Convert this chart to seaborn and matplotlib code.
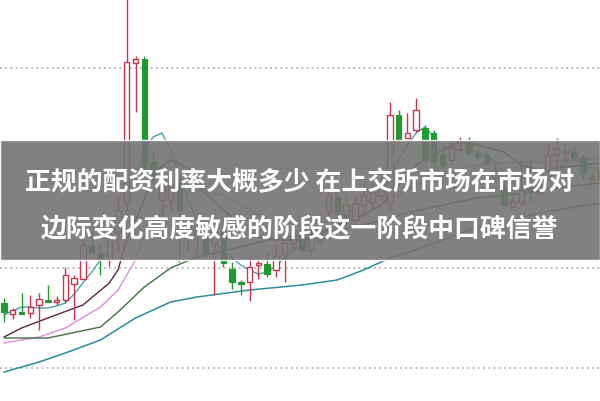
import numpy as np
import pandas as pd
import matplotlib
matplotlib.use('Agg')
import matplotlib.pyplot as plt
import seaborn as sns

# candle data (price units, one candle per day)
opens  = [8.65, 8.54, 8.56, 8.55, 8.63, 8.68, 8.66, 8.68, 8.84, 8.89,
          9.22, 9.15, 9.08, 9.36, 9.65, 11.05, 11.09, 10.06, 9.68, 9.68,
          9.85, 9.32, 9.33, 9.35, 9.25, 9.36, 8.99, 8.86, 8.86, 9.03,
          9.04, 8.98, 9.14, 9.25, 9.33, 9.18, 9.28, 9.56, 9.71, 9.53,
          9.48, 9.63, 9.65, 9.73, 9.65, 10.53, 10.30, 10.38, 10.40, 10.35,
          10.13, 10.08, 10.25, 10.26, 10.15, 10.13, 9.90, 9.80, 9.61, 9.65,
          9.81, 9.75, 9.98, 10.13, 10.15, 10.16, 10.10, 9.89, 10.01]
highs  = [8.70, 8.60, 8.75, 8.73, 8.75, 8.83, 8.72, 9.01, 8.93, 9.30,
          9.38, 9.23, 9.40, 9.73, 11.88, 11.12, 11.12, 10.18, 9.98, 9.90,
          9.91, 9.41, 9.48, 9.41, 9.41, 9.40, 9.06, 8.88, 9.13, 9.08,
          9.18, 9.23, 9.36, 9.40, 9.40, 9.41, 9.50, 9.80, 9.78, 9.73,
          9.73, 9.85, 9.85, 9.91, 10.66, 10.58, 10.55, 10.70, 10.43, 10.38,
          10.20, 10.28, 10.31, 10.31, 10.18, 10.16, 10.08, 9.86, 9.75, 10.10,
          10.10, 9.81, 10.23, 10.30, 10.25, 10.23, 10.13, 9.96, 10.05]
lows   = [8.46, 8.49, 8.54, 8.50, 8.38, 8.66, 8.63, 8.65, 8.48, 8.89,
          9.15, 8.93, 9.02, 9.18, 9.58, 10.56, 9.93, 9.83, 9.53, 9.58,
          9.06, 9.15, 9.13, 9.10, 8.73, 9.01, 8.79, 8.73, 8.67, 8.89,
          8.91, 8.91, 8.86, 9.18, 9.16, 9.13, 9.23, 9.48, 9.48, 9.43,
          9.35, 9.55, 9.60, 9.68, 9.58, 10.26, 10.30, 10.36, 10.03, 9.93,
          10.00, 10.03, 10.16, 10.11, 10.08, 10.03, 9.86, 9.61, 9.61, 9.63,
          9.66, 9.73, 9.96, 10.01, 10.08, 10.08, 9.88, 9.86, 9.83]
closes = [8.56, 8.58, 8.54, 8.61, 8.69, 8.66, 8.68, 8.93, 8.90, 9.23,
          9.16, 9.10, 9.33, 9.58, 11.06, 11.09, 10.00, 9.93, 9.88, 9.83,
          9.58, 9.30, 9.38, 9.15, 9.36, 9.05, 8.86, 8.84, 9.01, 9.05,
          8.94, 9.12, 9.25, 9.33, 9.18, 9.31, 9.41, 9.73, 9.56, 9.63,
          9.65, 9.73, 9.76, 9.85, 10.53, 10.28, 10.35, 10.58, 10.08, 10.06,
          10.03, 10.21, 10.27, 10.15, 10.10, 10.05, 9.98, 9.63, 9.67, 9.78,
          9.76, 9.77, 10.13, 10.20, 10.17, 10.10, 9.95, 9.91, 9.88]

# moving average lines (read at candle positions)
ma5 = [8.53, 8.57, 8.61, 8.61, 8.60, 8.60, 8.62, 8.65, 8.74, 8.85,
       8.96, 9.08, 9.18, 9.28, 9.58, 9.93, 10.18, 10.31, 10.35, 10.18,
       9.93, 9.68, 9.48, 9.33, 9.25, 9.18, 9.10, 9.03, 8.98, 8.94,
       8.96, 9.02, 9.10, 9.18, 9.23, 9.27, 9.32, 9.40, 9.46, 9.53,
       9.58, 9.63, 9.68, 9.75, 9.93, 10.08, 10.23, 10.35, 10.41, 10.31,
       10.23, 10.18, 10.18, 10.18, 10.16, 10.13, 10.06, 9.96, 9.88, 9.81,
       9.78, 9.80, 9.88, 9.98, 10.05, 10.08, 10.05, 10.00, 9.96]
ma10_idx = [0, 2, 5, 9, 12, 13, 14, 16, 17, 19, 21, 22, 25, 27, 29, 31, 34, 36,
            38, 41, 43, 45, 47, 50, 52, 54, 57, 59, 61, 63, 66, 68]
ma10 = [8.31, 8.40, 8.50, 8.63, 8.85, 8.98, 9.28, 9.68, 9.95, 10.08, 10.00, 9.83,
        9.58, 9.43, 9.31, 9.28, 9.28, 9.33, 9.43, 9.53, 9.63, 9.83, 10.03, 10.18,
        10.26, 10.23, 10.16, 10.03, 9.98, 10.00, 10.03, 10.05]
ma20_idx = [0, 4, 7, 11, 13, 15, 16, 18, 20, 22, 25, 27, 29, 31, 34, 37, 41, 44,
            47, 51, 54, 58, 61, 65, 68]
ma20 = [8.25, 8.31, 8.40, 8.61, 8.78, 9.08, 9.33, 9.58, 9.73, 9.78, 9.73, 9.63,
        9.53, 9.46, 9.43, 9.46, 9.55, 9.68, 9.83, 9.95, 10.03, 10.06, 10.06, 10.08,
        10.10]
ma30_idx = [0, 5, 11, 13, 16, 19, 22, 28, 30, 34, 37, 41, 45, 50, 54, 59, 63, 68]
ma30 = [8.30, 8.30, 8.41, 8.56, 8.81, 9.00, 9.11, 9.23, 9.28, 9.33, 9.36, 9.43,
        9.53, 9.63, 9.70, 9.75, 9.80, 9.85]
ma60_idx = [0, 4, 7, 11, 15, 19, 22, 28, 34, 38, 41, 44, 47, 50, 53, 57, 60, 63, 68]
ma60 = [7.96, 8.06, 8.15, 8.28, 8.50, 8.66, 8.71, 8.78, 8.83, 8.88, 8.98, 9.10,
        9.18, 9.28, 9.38, 9.46, 9.53, 9.58, 9.65]

grid_levels = [8, 9, 10, 11]

title_lines = ['正规的配资利率大概多少 在上交所市场在市场对',
               '边际变化高度敏感的阶段这一阶段中口碑信誉']

sns.set_theme(style='white')
plt.rcParams['font.family'] = ['Noto Sans CJK SC', 'DejaVu Sans']

df = pd.DataFrame({'open': opens, 'high': highs, 'low': lows, 'close': closes})
df['day'] = np.arange(len(df))
df['ma5'] = ma5

red = '#c9344e'
green = '#1f9a2e'

fig = plt.figure(figsize=(6, 4.01), dpi=100)
ax = fig.add_axes([0, 0, 1, 1])

# dotted horizontal grid
for lv in grid_levels:
    ax.axhline(lv, color='#a8a8a8', linestyle=(0, (1.2, 2.2)), linewidth=1.1, zorder=0)

# moving averages
sns.lineplot(data=df, x='day', y='ma5', ax=ax, color='#4aa3a6', linewidth=1.0, zorder=2)
sns.lineplot(x=ma10_idx, y=ma10, ax=ax, color='#5b2545', linewidth=1.0, zorder=2)
sns.lineplot(x=ma20_idx, y=ma20, ax=ax, color='#e28ae0', linewidth=1.0, zorder=2)
sns.lineplot(x=ma30_idx, y=ma30, ax=ax, color='#3f6f3f', linewidth=1.0, zorder=2)
sns.lineplot(x=ma60_idx, y=ma60, ax=ax, color='#2b8b9b', linewidth=1.1, zorder=2)

# candles
w = 0.62
up = df[df['close'] >= df['open']]
dn = df[df['close'] < df['open']]
ax.vlines(up['day'], up['low'], up['high'], color=red, linewidth=1.0, zorder=3)
ax.vlines(dn['day'], dn['low'], dn['high'], color=green, linewidth=1.0, zorder=3)
ax.bar(up['day'], (up['close'] - up['open']).clip(lower=0.02), bottom=up['open'],
       width=w, facecolor='white', edgecolor=red, linewidth=1.0, zorder=4)
ax.bar(dn['day'], (dn['open'] - dn['close']).clip(lower=0.02), bottom=dn['close'],
       width=w, facecolor=green, edgecolor=green, linewidth=0.8, zorder=4)

ax.set_xlim(-0.456, 67.96)
ax.set_ylim(7.67, 11.68)
ax.set_xlabel('')
ax.set_ylabel('')
ax.set_xticks([])
ax.set_yticks([])
for s in ax.spines.values():
    s.set_visible(False)

# gray banner with title text
fig.patches.append(plt.Rectangle((0, 1 - 260 / 401), 1, 120 / 401, transform=fig.transFigure,
                                 facecolor='#737373', alpha=0.9, zorder=10))
fig.text(0.5, 1 - 183 / 401, title_lines[0], ha='center', va='center', color='white',
         fontsize=18.6, fontweight='bold', zorder=11)
fig.text(0.5, 1 - 230 / 401, title_lines[1], ha='center', va='center', color='white',
         fontsize=18.6, fontweight='bold', zorder=11)

plt.savefig('out.png', dpi=100)
